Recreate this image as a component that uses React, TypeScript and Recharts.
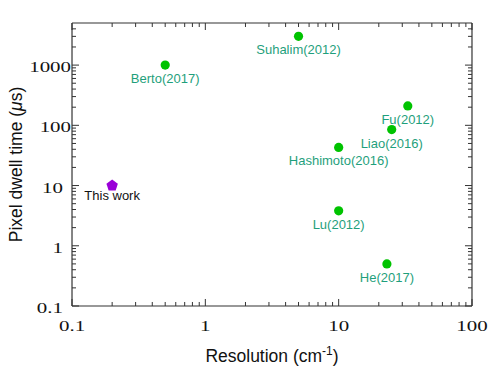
import React from 'react';
import { ScatterChart, Scatter, XAxis, YAxis, Label } from 'recharts';

// ---- data ----
const refNames = ['Berto(2017)', 'Suhalim(2012)', 'Fu(2012)', 'Liao(2016)', 'Hashimoto(2016)', 'Lu(2012)', 'He(2017)'];
const refResolution = [0.5, 5, 33, 25, 10, 10, 23];
const refDwell = [1000, 3000, 210, 85, 43, 3.8, 0.5];

const workNames = ['This work'];
const workResolution = [0.2];
const workDwell = [10];

const xDomain = [0.1, 100];
const yDomain = [0.1, 5000];
const xMajorTicks = [0.1, 1, 10, 100];
const xMinorTicks = [0.2, 0.3, 0.4, 0.5, 0.6, 0.7, 0.8, 0.9, 2, 3, 4, 5, 6, 7, 8, 9, 20, 30, 40, 50, 60, 70, 80, 90];
const yMajorTicks = [0.1, 1, 10, 100, 1000];
const yMinorTicks = [0.2, 0.3, 0.4, 0.5, 0.6, 0.7, 0.8, 0.9, 2, 3, 4, 5, 6, 7, 8, 9, 20, 30, 40, 50, 60, 70, 80, 90, 200, 300, 400, 500, 600, 700, 800, 900, 2000, 3000, 4000];

const refData = refNames.map((name, i) => ({ name, x: refResolution[i], y: refDwell[i] }));
const workData = workNames.map((name, i) => ({ name, x: workResolution[i], y: workDwell[i] }));

const xAllTicks = [...xMajorTicks, ...xMinorTicks].sort((a, b) => a - b);
const yAllTicks = [...yMajorTicks, ...yMinorTicks].sort((a, b) => a - b);

// ---- styles ----
const AXIS = '#333';
const GREEN = '#00c300';
const TEAL = '#1f9f7c';
const PURPLE = '#9a00d8';
const SANS = '"Liberation Sans", Arial, sans-serif';
const SERIF = '"Liberation Serif", "Times New Roman", serif';
const MAJOR = 7;
const MINOR = 4;

const fmt = (v: number) => (v < 1 ? v.toFixed(1) : String(v));
const isMajorX = (v: number) => xMajorTicks.includes(v);
const isMajorY = (v: number) => yMajorTicks.includes(v);

const tickText = (tx: number, ty: number, anchor: string, v: number) => (
  <text
    transform={`translate(${tx},${ty}) scale(1.35,1)`}
    textAnchor={anchor}
    dominantBaseline="central"
    fontFamily={SERIF}
    fontSize={15.5}
    fill="#111"
  >
    {fmt(v)}
  </text>
);

// bottom: (x, y) is on the axis line
const BottomTick = (props: any) => {
  const { x, y, payload } = props;
  const major = isMajorX(payload.value);
  const len = major ? MAJOR : MINOR;
  return (
    <g>
      <line x1={x} x2={x} y1={y} y2={y - len} stroke={AXIS} strokeWidth={1} />
      {major ? tickText(x, y + 20, 'middle', payload.value) : null}
    </g>
  );
};

const TopTick = (props: any) => {
  const { x, y, payload } = props;
  const len = isMajorX(payload.value) ? MAJOR : MINOR;
  return <line x1={x} x2={x} y1={y} y2={y + len} stroke={AXIS} strokeWidth={1} />;
};

const LeftTick = (props: any) => {
  const { x, y, payload } = props;
  const major = isMajorY(payload.value);
  const len = major ? MAJOR : MINOR;
  const shift = payload.value >= 100 ? -1 : -9;
  return (
    <g>
      <line x1={x} x2={x + len} y1={y} y2={y} stroke={AXIS} strokeWidth={1} />
      {major ? tickText(x + shift, y + 2, 'end', payload.value) : null}
    </g>
  );
};

const RightTick = (props: any) => {
  const { x, y, payload } = props;
  const len = isMajorY(payload.value) ? MAJOR : MINOR;
  return <line x1={x} x2={x - len} y1={y} y2={y} stroke={AXIS} strokeWidth={1} />;
};

const RefShape = (props: any) => {
  const { cx, cy, payload } = props;
  return (
    <g>
      <circle cx={cx} cy={cy} r={4.6} fill={GREEN} />
      <text
        x={cx}
        y={cy + 13.5}
        textAnchor="middle"
        dominantBaseline="central"
        fontFamily={SANS}
        fontSize={13}
        fill={TEAL}
      >
        {payload.name}
      </text>
    </g>
  );
};

const WorkShape = (props: any) => {
  const { cx, cy, payload } = props;
  const r = 6;
  const pts = [0, 1, 2, 3, 4]
    .map((k) => {
      const a = ((-90 + k * 72) * Math.PI) / 180;
      return `${cx + r * Math.cos(a)},${cy + r * Math.sin(a)}`;
    })
    .join(' ');
  return (
    <g>
      <polygon points={pts} fill={PURPLE} />
      <text
        x={cx}
        y={cy + 10}
        textAnchor="middle"
        dominantBaseline="central"
        fontFamily={SANS}
        fontSize={13}
        fill="#111"
      >
        {payload.name}
      </text>
    </g>
  );
};

const NoShape = () => <g />;

const XTitle = (props: any) => {
  const vb = props.viewBox || {};
  const cx = vb.x + vb.width / 2;
  return (
    <text x={cx} y={vb.y + 56} textAnchor="middle" fontFamily={SANS} fontSize={17.5} fill="#111">
      Resolution (cm
      <tspan dy={-7} fontSize={12}>-1</tspan>
      <tspan dy={7}>)</tspan>
    </text>
  );
};

const YTitle = (props: any) => {
  const vb = props.viewBox || {};
  const cy = vb.y + vb.height / 2;
  const bx = 22;
  return (
    <text
      x={bx}
      y={cy}
      transform={`rotate(-90, ${bx}, ${cy})`}
      textAnchor="middle"
      fontFamily={SANS}
      fontSize={17.5}
      fill="#111"
    >
      Pixel dwell time (<tspan fontStyle="italic">μ</tspan>s)
    </text>
  );
};

export default function App() {
  const common = {
    type: 'number' as const,
    scale: 'log' as const,
    allowDataOverflow: true,
    interval: 0 as const,
    tickSize: 0,
    tickMargin: 0,
    tickLine: false,
  };
  const line = { stroke: AXIS, strokeWidth: 1.2 };
  return (
    <div style={{ position: 'absolute', left: 0, top: 0, width: 498, height: 374, background: '#fff' }}>
      <ScatterChart width={498} height={374} margin={{ top: 23, right: 26, bottom: 68, left: 72 }}>
        <XAxis
          {...common}
          xAxisId="x"
          dataKey="x"
          domain={xDomain}
          ticks={xAllTicks}
          height={0.01}
          tick={<BottomTick />}
          axisLine={line}
        >
          <Label content={<XTitle />} />
        </XAxis>
        <XAxis
          {...common}
          xAxisId="xtop"
          orientation="top"
          dataKey="x"
          domain={xDomain}
          ticks={xAllTicks}
          height={0.01}
          tick={<TopTick />}
          axisLine={line}
        />
        <YAxis
          {...common}
          yAxisId="y"
          dataKey="y"
          domain={yDomain}
          ticks={yAllTicks}
          width={0.01}
          tick={<LeftTick />}
          axisLine={line}
        >
          <Label content={<YTitle />} />
        </YAxis>
        <YAxis
          {...common}
          yAxisId="yright"
          orientation="right"
          dataKey="y"
          domain={yDomain}
          ticks={yAllTicks}
          width={0.01}
          tick={<RightTick />}
          axisLine={line}
        />
        <Scatter data={refData} xAxisId="xtop" yAxisId="yright" shape={<NoShape />} isAnimationActive={false} />
        <Scatter data={refData} xAxisId="x" yAxisId="y" shape={<RefShape />} isAnimationActive={false} />
        <Scatter data={workData} xAxisId="x" yAxisId="y" shape={<WorkShape />} isAnimationActive={false} />
      </ScatterChart>
    </div>
  );
}
